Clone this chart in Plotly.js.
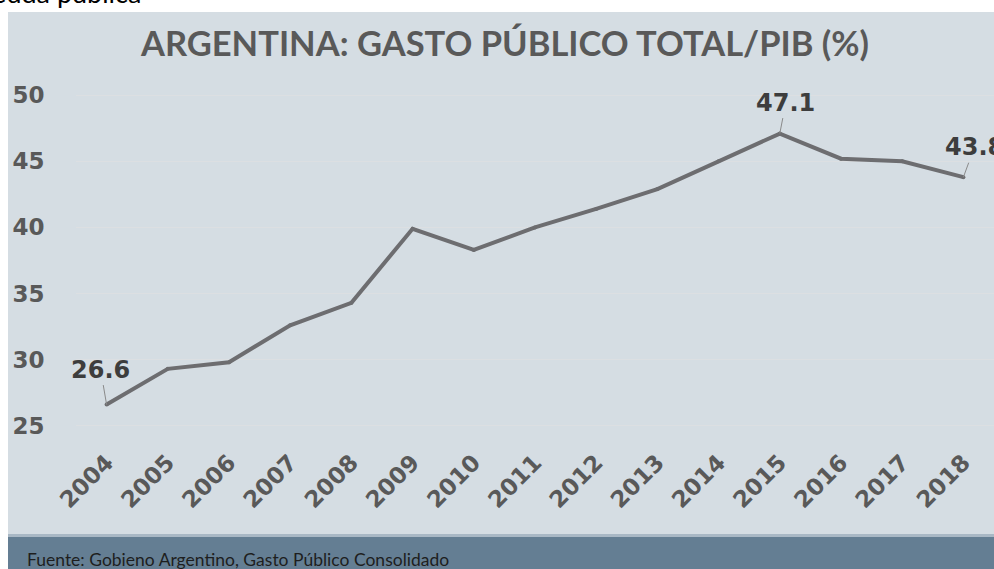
<!DOCTYPE html>
<html>
<head>
<meta charset="utf-8">
<script src="https://cdn.plot.ly/plotly-3.0.1.min.js"></script>
<style>
  html, body { margin: 0; padding: 0; background: #ffffff; }
  #chart { width: 994px; height: 569px; }
</style>
</head>
<body>
<div id="chart"></div>
<script>
// ---- data ----
const years = ['2004','2005','2006','2007','2008','2009','2010','2011','2012','2013','2014','2015','2016','2017','2018'];
const gasto = [26.6, 29.3, 29.8, 32.6, 34.3, 39.9, 38.3, 40.0, 41.4, 42.9, 45.0, 47.1, 45.2, 45.0, 43.8];
const labeledYears = ['2004', '2015', '2018'];
const yTickValues = [25, 30, 35, 40, 45, 50];
const titleText = 'ARGENTINA: GASTO PÚBLICO TOTAL/PIB (%)';
const sourceText = 'Fuente: Gobieno Argentino, Gasto Público Consolidado';
const headerText = 'deuda pública';

// ---- geometry ----
const W = 994, H = 569;
const M = { l: 76, r: 0, t: 82, b: 131 };
const plotW = W - M.l - M.r, plotH = H - M.t - M.b;
const fx = px => (px - M.l) / plotW;
const fy = py => (H - M.b - py) / plotH;
const yTop = 51, pxPerUnit = 13.22;
const yBottom = yTop - plotH / pxPerUnit;

const labelOffsets = { '2004': [-6, -35], '2015': [6, -31], '2018': [11, -30] };

const annotations = labeledYears.map(yr => {
  const i = years.indexOf(yr);
  const off = labelOffsets[yr];
  return {
    x: i, y: gasto[i], xref: 'x', yref: 'y',
    text: '<b>' + gasto[i].toFixed(1) + '</b>',
    showarrow: true, arrowhead: 0, arrowwidth: 1, arrowcolor: '#8a8a8a',
    ax: off[0], ay: off[1], axref: 'pixel', ayref: 'pixel', standoff: 0,
    font: { family: 'DejaVu Sans', size: 24, color: '#3d3d3d' }
  };
});

annotations.push({
  xref: 'paper', yref: 'paper', x: fx(25), y: fy(559), xanchor: 'left', yanchor: 'middle',
  text: sourceText, showarrow: false,
  font: { family: 'Lato', size: 17.5, color: '#1e1e1e' }
});
annotations.push({
  xref: 'paper', yref: 'paper', x: fx(143), y: fy(11), xanchor: 'right', yanchor: 'bottom',
  text: headerText, showarrow: false,
  font: { family: 'Lato', size: 27, color: '#000000' }
});

const shapes = [
  { type: 'rect', xref: 'paper', yref: 'paper', x0: fx(0), x1: fx(W), y0: fy(0), y1: fy(12),
    fillcolor: '#ffffff', line: { width: 0 }, layer: 'below' },
  { type: 'rect', xref: 'paper', yref: 'paper', x0: fx(0), x1: fx(8), y0: fy(0), y1: fy(H),
    fillcolor: '#ffffff', line: { width: 0 }, layer: 'below' },
  { type: 'rect', xref: 'paper', yref: 'paper', x0: fx(8), x1: fx(W), y0: fy(534), y1: fy(537),
    fillcolor: '#a9b8c5', line: { width: 0 }, layer: 'below' },
  { type: 'rect', xref: 'paper', yref: 'paper', x0: fx(8), x1: fx(W), y0: fy(537), y1: fy(H),
    fillcolor: '#647e93', line: { width: 0 }, layer: 'below' }
];

const trace = {
  type: 'scatter', mode: 'lines+markers',
  x: years, y: gasto,
  line: { color: '#6d6d70', width: 4 },
  marker: { size: 4, color: '#6d6d70' },
  hoverinfo: 'x+y'
};

const layout = {
  width: W, height: H,
  margin: M,
  paper_bgcolor: '#d5dde3',
  plot_bgcolor: 'rgba(0,0,0,0)',
  showlegend: false,
  title: {
    text: '<b>' + titleText + '</b>',
    x: 505 / W, xanchor: 'center', xref: 'container',
    y: 1 - 43.5 / H, yanchor: 'middle', yref: 'container',
    font: { family: 'Lato', size: 34.5, color: '#595959' }
  },
  xaxis: {
    type: 'category',
    range: [-0.5, years.length - 0.5],
    showgrid: false, zeroline: false, showline: false,
    ticks: 'outside', ticklen: 1, tickcolor: 'rgba(0,0,0,0)',
    tickangle: -45,
    tickfont: { family: 'DejaVu Sans', size: 23, color: '#595959', weight: 'bold' },
    fixedrange: true
  },
  yaxis: {
    range: [yBottom, yTop],
    tickvals: yTickValues,
    ticktext: yTickValues.map(v => '<b>' + v + '</b>'),
    showgrid: true, gridcolor: '#dcdfe2', gridwidth: 1,
    zeroline: false, showline: false,
    ticks: 'outside', ticklen: 26, tickcolor: 'rgba(0,0,0,0)',
    tickfont: { family: 'DejaVu Sans', size: 23, color: '#595959' },
    fixedrange: true
  },
  annotations: annotations,
  shapes: shapes
};

Plotly.newPlot('chart', [trace], layout, { displayModeBar: false, staticPlot: true });
</script>
</body>
</html>
